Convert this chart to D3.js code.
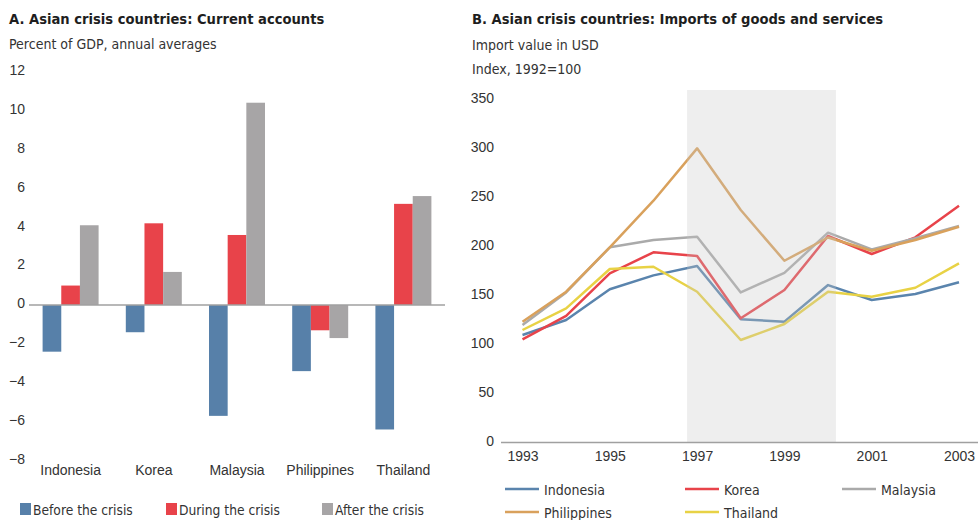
<!DOCTYPE html>
<html>
<head>
<meta charset="utf-8">
<script src="https://cdn.jsdelivr.net/npm/d3@7"></script>
<style>
  html, body { margin: 0; padding: 0; background: #fff; }
  svg { display: block; font-family: "Liberation Sans Narrow", "DejaVu Sans Condensed", "Roboto Condensed", "Noto Sans", sans-serif; }
  .title { font-weight: bold; font-size: 14.6px; fill: #1e1e1e; }
  .sub { font-size: 14px; fill: #333; }
  .tick text { font-size: 14px; fill: #333; }
  .leg { font-size: 14px; fill: #333; }
  .legA { font-size: 13.7px; fill: #333; }
</style>
</head>
<body>
<svg id="chart" width="978" height="520"></svg>
<script>
// ---------- Panel A data ----------
const countriesA = ["Indonesia", "Korea", "Malaysia", "Philippines", "Thailand"];
const seriesA = ["Before the crisis", "During the crisis", "After the crisis"];
const beforeCrisis = [-2.4, -1.4, -5.7, -3.4, -6.4];
const duringCrisis = [1.0, 4.2, 3.6, -1.3, 5.2];
const afterCrisis  = [4.1, 1.7, 10.4, -1.7, 5.6];
const colorsA = ["#5780a9", "#e8434a", "#a7a5a6"];
const ticksA = [12, 10, 8, 6, 4, 2, 0, -2, -4, -6, -8];

// ---------- Panel B data ----------
const years = [1993, 1994, 1995, 1996, 1997, 1998, 1999, 2000, 2001, 2002, 2003];
const yearTicks = [1993, 1995, 1997, 1999, 2001, 2003];
const ticksB = [0, 50, 100, 150, 200, 250, 300, 350];
const crisisPeriod = [1996.77, 2000.18];
const indonesia   = [109.6, 124.9, 156.2, 170.4, 180.0, 125.6, 123.2, 160.5, 145.3, 151.4, 163.3];
const korea       = [105.2, 129.0, 172.5, 193.9, 190.1, 126.6, 155.5, 210.5, 192.2, 209.2, 241.4];
const malaysia    = [119.8, 153.0, 199.0, 206.4, 209.8, 153.0, 173.0, 213.9, 196.9, 208.2, 220.7];
const philippines = [123.2, 153.7, 199.0, 246.5, 299.9, 237.0, 185.3, 209.0, 195.5, 206.4, 220.0];
const thailand    = [114.7, 136.8, 176.9, 179.2, 153.7, 104.5, 120.8, 153.7, 148.6, 157.8, 182.7];
const namesB = ["Indonesia", "Korea", "Malaysia", "Philippines", "Thailand"];
const colorsB = ["#5a84ad", "#e8434a", "#aaaaaa", "#d9a15c", "#e8d245"];

const svg = d3.select("#chart");

// ================= Panel A =================
const gA = svg.append("g");
gA.append("text").attr("class", "title").attr("x", 9).attr("y", 24)
  .text("A. Asian crisis countries: Current accounts");
gA.append("text").attr("class", "sub").attr("x", 9).attr("y", 49)
  .text("Percent of GDP, annual averages");

const yA = d3.scaleLinear().domain([-8, 12]).range([460.6, 71.6]);
const xA = d3.scaleBand().domain(countriesA).range([29, 445]).paddingInner(0.327).paddingOuter(0.1635);
const xSub = d3.scaleBand().domain(seriesA).range([0, xA.bandwidth()]);

const yAxisA = gA.append("g").attr("transform", "translate(29,0)")
  .call(d3.axisLeft(yA).tickValues(ticksA).tickSize(0).tickPadding(4).tickFormat(d3.format("d")));
yAxisA.select(".domain").remove();
yAxisA.selectAll("text").attr("dy", "0.2em");

const valsA = [beforeCrisis, duringCrisis, afterCrisis];
seriesA.forEach((s, si) => {
  gA.append("g").selectAll("rect")
    .data(countriesA.map((c, ci) => ({ c, v: valsA[si][ci] })))
    .join("rect")
    .attr("x", d => xA(d.c) + xSub(s))
    .attr("width", xSub.bandwidth())
    .attr("y", d => yA(Math.max(0, d.v)))
    .attr("height", d => Math.abs(yA(d.v) - yA(0)))
    .attr("fill", colorsA[si]);
});

gA.append("line").attr("x1", 29).attr("x2", 445).attr("y1", yA(0)).attr("y2", yA(0))
  .attr("stroke", "#a0a0a0").attr("stroke-width", 1.5);

const xAxisA = gA.append("g").attr("transform", "translate(0,462)")
  .call(d3.axisBottom(xA).tickSize(0).tickPadding(3));
xAxisA.select(".domain").remove();

const legAx = [20, 166, 322];
seriesA.forEach((s, i) => {
  gA.append("rect").attr("x", legAx[i]).attr("y", 503).attr("width", 11).attr("height", 12).attr("fill", colorsA[i]);
  gA.append("text").attr("class", "legA").attr("x", legAx[i] + 13).attr("y", 515).text(s);
});

// ================= Panel B =================
const gB = svg.append("g");
gB.append("text").attr("class", "title").attr("x", 472).attr("y", 24)
  .text("B. Asian crisis countries: Imports of goods and services");
gB.append("text").attr("class", "sub").attr("x", 472).attr("y", 50)
  .text("Import value in USD");
gB.append("text").attr("class", "sub").attr("x", 472).attr("y", 74)
  .text("Index, 1992=100");

const yB = d3.scaleLinear().domain([0, 350]).range([442.5, 99.2]);
const xB = d3.scaleLinear().domain([1993, 2003]).range([522.5, 959]);

const yAxisB = gB.append("g").attr("transform", "translate(498,0)")
  .call(d3.axisLeft(yB).tickValues(ticksB).tickSize(0).tickPadding(4));
yAxisB.select(".domain").remove();
yAxisB.selectAll("text").attr("dy", "0.2em");

const seriesB = [indonesia, korea, malaysia, philippines, thailand];
const line = d3.line().x((d, i) => xB(years[i])).y(d => yB(d));
seriesB.forEach((s, i) => {
  gB.append("path").datum(s).attr("d", line)
    .attr("fill", "none").attr("stroke", colorsB[i]).attr("stroke-width", 2.5)
    .attr("stroke-linejoin", "round");
});

// crisis shading (drawn over lines, semi-transparent)
gB.append("rect")
  .attr("x", xB(crisisPeriod[0])).attr("width", xB(crisisPeriod[1]) - xB(crisisPeriod[0]))
  .attr("y", 90).attr("height", yB(0) - 90)
  .attr("fill", "#c6c6c6").attr("opacity", 0.3);

const xAxisB = gB.append("g").attr("transform", `translate(0,${yB(0)})`)
  .call(d3.axisBottom(xB).tickValues(yearTicks).tickSize(0).tickPadding(9).tickFormat(d3.format("d")));
xAxisB.select(".domain").remove();
gB.append("line").attr("x1", 501).attr("x2", 978).attr("y1", yB(0)).attr("y2", yB(0))
  .attr("stroke", "#a0a0a0").attr("stroke-width", 1.5);

const legB = [[505, 489], [685, 489], [842, 489], [505, 512], [685, 512]];
namesB.forEach((n, i) => {
  const [lx, ly] = legB[i];
  gB.append("line").attr("x1", lx).attr("x2", lx + 34).attr("y1", ly).attr("y2", ly)
    .attr("stroke", colorsB[i]).attr("stroke-width", 2.5);
  gB.append("text").attr("class", "leg").attr("x", lx + 39).attr("y", ly + 5.5).text(n);
});
</script>
</body>
</html>
